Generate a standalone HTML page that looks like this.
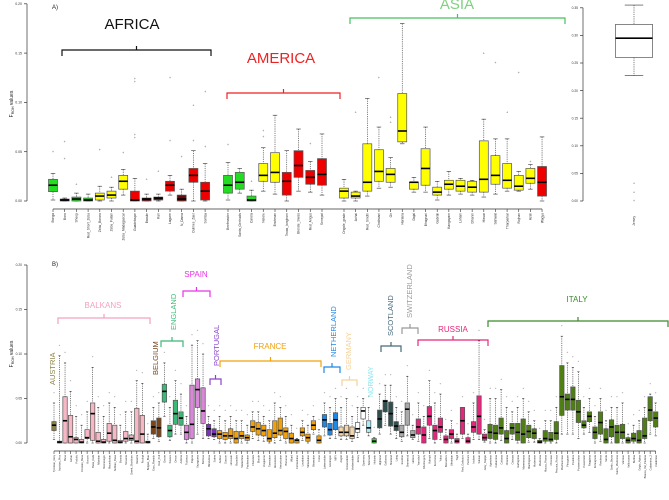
<!DOCTYPE html>
<html><head><meta charset="utf-8">
<style>
html,body{margin:0;padding:0;background:#fff;}
svg{display:block;font-family:"Liberation Sans",sans-serif;}
</style></head>
<body>
<svg id="chart" width="669" height="500" viewBox="0 0 669 500" xmlns="http://www.w3.org/2000/svg">
<text x="52" y="9" font-size="6" fill="#222">A)</text>
<text x="52" y="266" font-size="6" fill="#222">B)</text>
<text transform="translate(13,104) rotate(-90)" text-anchor="middle" font-size="5" fill="#222">F<tspan font-size="3.5" dy="1">ROH</tspan><tspan dy="-1"> values</tspan></text>
<text transform="translate(13,354) rotate(-90)" text-anchor="middle" font-size="5" fill="#222">F<tspan font-size="3.5" dy="1">ROH</tspan><tspan dy="-1"> values</tspan></text>
<g id="ga"></g><g id="gr"></g><g id="gb"></g>
</svg>
<script>
// ---------- Panel A data: [median, q1, q3, whiskerHigh, whiskerLow]
const aNames = ["Bonga","Boro","Sheep","Red_Short_Zebu","Zebu_Bororo","Zebu_Fulani","Zebu_Madagascar","Guadeloupe","Baoule","Kuri","Lagune","N_Dama","Oulmes_Zaer","Somba",
 "Beefmaster","Santa_Gertrudis","Carora","Nelore","Brahman","Texas_longhorn","Blonde_Swiss","Red_Angus","Senepol",
 "Ongole_grade","Achai","Red_Sindhi","Cholistani","Gir","Hariana","Dajal","Bhagnari","Gabrali","Kangayam","Lohani","Dhanni","Hissar","Sahiwal","Tharparkar","Rojhan","Azeli","Wagyu"];
const aGroup = [0,0,0,0,0,0,0,0,0,0,0,0,0,0, 1,1,1,1,1,1,1,1,1, 2,2,2,2,2,2,2,2,2,2,2,2,2,2,2,2,2,2];
const aColor = ["g","k","g","g","y","y","y","r","d","d","r","d","r","r", "g","g","g","y","y","r","r","r","r", "y","y","y","y","y","y","y","y","y","y","y","y","y","y","y","y","y","r"];
const aStats = [
[.016,.0095,.022,.028,.001],[.001,0,.002,.003,0],[.002,0,.004,.008,0],[.001,0,.003,.007,0],[.005,.001,.008,.015,0],[.006,.003,.010,.014,0],[.020,.012,.026,.032,.006],[.001,0,.010,.023,0],[.002,0,.003,.007,0],[.003,.001,.004,.007,0],[.016,.010,.020,.026,.006],[.002,0,.006,.012,0],[.026,.019,.033,.051,0],[.010,.001,.019,.038,0],
[.016,.008,.026,.039,.001],[.019,.012,.029,.033,.008],[.001,0,.005,.011,0],[.026,.020,.038,.054,.010],[.029,.019,.049,.087,.007],[.020,.006,.029,.051,0],[.036,.024,.051,.073,.010],[.024,.017,.031,.040,.009],[.027,.016,.043,.068,.006],
[.010,.003,.013,.022,0],[.005,.003,.009,.010,0],[.019,.010,.058,.104,.005],[.030,.020,.052,.075,.013],[.027,.019,.033,.044,.014],[.071,.060,.109,.180,.058],[.019,.012,.019,.024,.009],[.033,.016,.053,.075,.009],[.009,.006,.014,.020,.001],[.017,.012,.021,.030,.006],[.015,.010,.021,.023,.007],[.014,.009,.020,.021,.006],[.022,.009,.061,.083,.004],[.026,.017,.046,.063,.007],[.021,.013,.038,.063,.010],[.015,.011,.026,.030,.010],[.023,.018,.033,.037,.012],[.019,.005,.035,.065,0]];
const aOutliers = [[0,.050],[1,.060],[1,.043],[2,.017],[4,.052],[5,.024],[6,.049],[7,.121],[7,.124],[7,.067],[7,.064],[8,.022],[9,.030],[10,.125],[10,.061],[11,.045],[12,.097],[12,.061],[13,.111],[13,.055],[14,.057],[16,.020],[17,.071],[17,.065],[21,.058],[24,.090],[26,.125],[27,.085],[27,.080],[35,.150],[36,.140],[37,.090],[38,.130],[39,.040]];
const aTicks = [0,0.05,0.10,0.15,0.20];
const aTickLabels = ["0.00","0.05","0.10","0.15","0.20"];
// Right panel
const rName = ["Jersey"];
const rStats = [[.295,.260,.320,.355,.227]];
const rOutliers = [.032,.016,.0];
const rTicks = [0,.05,.10,.15,.20,.25,.30,.35];
const rTickLabels = ["0.00","0.05","0.10","0.15","0.20","0.25","0.30","0.35"];

// ---------- Panel B data
const bGroupNames = ["Austria","Balkans","Belgium","England","Spain","Portugal","France","Netherland","Germany","White","Norway","Green","Scotland","Switzerland","Russia","Italy"];
const bGroupCounts = [1,17,2,4,4,2,19,3,3,2,1,1,4,3,13,31];
const bStats = [
[.020,.014,.024,.045,.004],
[.001,0,.002,.098,0],[.025,0,.052,.090,0],[.007,0,.031,.058,0],[.004,0,.006,.030,0],[.001,0,.004,.020,0],[.006,.005,.015,.035,0],[.033,.003,.045,.085,0],[.002,0,.012,.040,0],[.001,0,.004,.030,0],[.011,.002,.022,.045,0],[.003,0,.020,.040,0],[.001,0,.003,.020,0],[.005,.002,.013,.035,0],[.005,.003,.009,.035,0],[.002,0,.039,.070,0],[.010,0,.031,.067,0],[.001,0,.002,.010,0],
[.018,.010,.025,.040,.005],[.017,.007,.028,.045,.002],
[.058,.046,.066,.090,.030],[.014,.007,.020,.040,.003],[.033,.021,.048,.070,.010],[.028,.020,.035,.055,.010],
[.012,.004,.020,.030,0],[.021,.005,.065,.110,0],[.060,.040,.072,.115,.010],[.036,.022,.062,.100,.005],
[.016,.008,.021,.030,.005],[.010,.007,.016,.025,.004],
[.010,.005,.014,.030,0],[.008,.004,.012,.025,0],[.008,.005,.016,.030,0],[.005,0,.013,.025,0],[.008,.005,.013,.025,0],[.006,.003,.009,.020,0],[.018,.013,.025,.035,.005],[.016,.009,.023,.035,.003],[.014,.008,.020,.030,.002],[.005,.002,.015,.025,0],[.011,.006,.025,.045,0],[.014,.009,.028,.040,.003],[.013,.005,.017,.030,0],[.005,0,.011,.020,0],[.003,0,.004,.005,0],[.012,.008,.017,.025,.003],[.006,.002,.010,.020,0],[.020,.015,.025,.030,.010],[.003,0,.008,.015,0],
[.026,.018,.032,.045,.008],[.015,.009,.022,.040,.005],[.026,.015,.034,.050,.005],
[.012,.008,.018,.040,.004],[.012,.008,.020,.050,.004],[.008,.005,.018,.030,.002],
[.016,.012,.023,.040,.006],[.036,.027,.040,.050,.020],
[.017,.012,.025,.040,.008],
[.002,0,.005,.006,0],
[.027,.017,.037,.055,.010],[.047,.035,.048,.065,.020],[.033,.019,.046,.065,.010],[.019,.014,.024,.040,.005],
[.012,.007,.020,.035,.002],[.038,.020,.045,.075,.008],[.009,.006,.014,.020,.004],
[.018,.010,.027,.045,.002],[.009,0,.018,.030,0],[.030,.020,.041,.070,.005],[.014,.004,.020,.045,0],[.018,.012,.028,.055,.004],[.004,0,.008,.015,0],[.010,.005,.015,.025,0],[.002,0,.005,.010,0],[.025,.010,.040,.040,.005],[.002,0,.006,.010,0],[.018,.012,.024,.045,.004],[.030,.010,.053,.115,.004],[.006,.003,.010,.015,.001],
[.012,.005,.021,.050,0],[.011,.004,.020,.050,0],[.017,.010,.028,.060,.003],[.005,0,.014,.040,0],[.017,.010,.022,.035,.004],[.012,.003,.022,.040,0],[.010,0,.027,.050,0],[.013,.006,.020,.035,.001],[.011,.005,.016,.025,.001],[.001,0,.003,.005,0],[.005,.002,.014,.025,0],[.004,.002,.012,.025,0],[.011,.004,.024,.040,0],[.052,.031,.087,.120,.010],[.049,.037,.055,.090,.010],[.049,.037,.063,.085,.010],[.035,.023,.048,.080,.005],[.020,.017,.025,.040,.010],[.030,.024,.035,.050,.012],[.012,.005,.018,.030,0],[.023,.010,.035,.050,.002],[.004,0,.016,.025,0],[.018,.007,.026,.040,0],[.012,0,.020,.040,0],[.012,.005,.021,.045,0],[.003,0,.006,.010,0],[.005,.002,.011,.020,0],[.003,0,.014,.025,0],[.008,.005,.028,.040,0],[.037,.025,.052,.055,.010],[.028,.018,.035,.045,.008]];
const bTicks = [0,.05,.10,.15,.20];
const bTickLabels = ["0.00","0.05","0.10","0.15","0.20"];
const bLabelPool = ["Tyrolean_Grey","Austrian_Pinz","Busa","Istrian","Podolic","Croatian_Busa","Kosovo","Buša_Dark","Albanian","Montenegro","Macedonian","Serbian_Busa","Bosnia","Slovenia","Greek_Shorthorn","Katerini","Rodopi","Belgian_Blue","East_Flemish","Red_Poll","Dexter","Sussex","Devon","Avilena","Tudanca","Pajuna","Sayaguesa","Barrosa","Mirandesa","Salers","Aubrac","Gascon","Limousin","Bazadais","Maraichine","Parthenaise","Charolais","Blonde","Vosgienne","Tarentaise","Abondance","Armoricaine","Bretonne","Villard","Ferrandaise","Lourdaise","Mirandaise","Béarnaise","Corse","Lakenvelder","Groningen","MRY","Angler","Hinterwälder","Vorderwälder","Jersey","Guernsey","Telemark","Holstein","Highland","Galloway","Shetland","Luing","Evolène","Simmental","Hérens","Yaroslavl","Kholmogory","Kalmyk","Kostroma","Yakut","Bestuzhev","Ukrainian","Tagil","Red_Gorbatov","Pechora","Istoben","Suksun","Grey_Steppe","Agerolese","Cabannina","Calvana","Chianina","Cinisara","Garfagnina","Maremmana","Marchigiana","Modenese","Modicana","Mucca_Pisana","Ottonese","Pezzata_Rossa","Piedmontese","Pinzgauer","Podolica","Pontremolese","Pustertaler","Reggiana","Romagnola","Rendena","Sarda","Sardo_Bruna","Sardo_Modicana","Varzese","Valdostana","Burlina","Grigio_Alpina","Bianca_Val_Padana","Cabannina_2","Calabrese"];

const NS="http://www.w3.org/2000/svg";
const COLORS={g:"#22dd22",k:"#111",y:"#ffff00",r:"#ee0000",d:"#6b0a0a"};
const BCOL={Austria:"#8d8245",Balkans:"#f5b8c4",Belgium:"#7a4519",England:"#3cb878",Spain:"#d987d9",Portugal:"#7b2fbf",France:"#f2a10a",Netherland:"#1e88e5",Germany:"#f6d6a8",White:"#ffffff",Norway:"#a8ecf5",Green:"#20e020",Scotland:"#2f4f4f",Switzerland:"#aaaaaa",Russia:"#e3277b",Italy:"#4f7f14"};
function el(tag,attrs,parent,name,inter){const e=document.createElementNS(NS,tag);for(const k in attrs)e.setAttribute(k,attrs[k]);


parent.appendChild(e);return e;}

function drawBox(g,x,w,s,y,fill,name){
  const [med,q1,q3,hi,lo]=s;
  const bg=el('g',{},g,name,false);
  el('line',{x1:x,x2:x,y1:y(hi),y2:y(q3),stroke:'#333','stroke-width':0.6,'stroke-dasharray':'1.2,1'},bg,'whisker-high',false);
  el('line',{x1:x,x2:x,y1:y(q1),y2:y(lo),stroke:'#333','stroke-width':0.6,'stroke-dasharray':'1.2,1'},bg,'whisker-low',false);
  el('line',{x1:x-w/4,x2:x+w/4,y1:y(hi),y2:y(hi),stroke:'#333','stroke-width':0.6},bg,'whisker-cap',false);
  el('line',{x1:x-w/4,x2:x+w/4,y1:y(lo),y2:y(lo),stroke:'#333','stroke-width':0.6},bg,'whisker-cap',false);
  el('rect',{x:x-w/2,y:y(q3),width:w,height:Math.max(0.8,y(q1)-y(q3)),fill:fill,stroke:'#555','stroke-width':0.7},bg,'box',false);
  el('line',{x1:x-w/2,x2:x+w/2,y1:y(med),y2:y(med),stroke:'#000','stroke-width':1.6},bg,'median-line',false);
}
function yAxis(g,x,y,ticks,labels,name,fs){
  const ag=el('g',{},g,name,false);
  el('line',{x1:x,x2:x,y1:y(ticks[0]),y2:y(ticks[ticks.length-1]),stroke:'#333','stroke-width':0.7},ag,'y-axis-line',false);
  ticks.forEach((t,i)=>{el('line',{x1:x-3,x2:x,y1:y(t),y2:y(t),stroke:'#333','stroke-width':0.7},ag,'y-tick',false);
    const tx=el('text',{x:x-5,y:y(t)+1.2,'font-size':fs,'text-anchor':'end',fill:'#333'},ag,'y-tick-label',false);tx.textContent=labels[i];});
}
function xLabel(g,x,y0,text,fs){const t=el('text',{transform:`translate(${x+1.2},${y0}) rotate(-90)`,'font-size':fs,'text-anchor':'end',fill:'#333'},g,'x-tick-label',false);t.textContent=text;}
function bracket(g,x1,x2,y,color,name){
  const mid=(x1+x2)/2;
  el('path',{d:`M${x1},${y+6}V${y}H${x2}V${y+6}M${mid},${y}V${y-4}`,fill:'none',stroke:color,'stroke-width':1.2},g,name,false);
}
function label(g,x,y,text,color,fs,rot,name){
  const t=el('text',{transform:`translate(${x},${y})`+(rot?' rotate(-90)':''),'font-size':fs,fill:color,'text-anchor':rot?'start':'middle'},g,name,false);t.textContent=text;
}

// ---------- Panel A
const ga=document.getElementById('ga');
const yA=v=>201-v*986;
yAxis(ga,27,yA,aTicks,aTickLabels,'panel-a-y-axis',3.5);
const aStart=[53,228,344], aStep=[11.7,11.75,11.65];
const aX=[];let cnt=[0,0,0];
aGroup.forEach((gi,i)=>{aX.push(aStart[gi]+aStep[gi]*cnt[gi]);cnt[gi]++;});
el('line',{x1:aX[0],x2:aX[aX.length-1],y1:209,y2:209,stroke:'#333','stroke-width':0.7},ga,'panel-a-x-axis',false);
aStats.forEach((s,i)=>{drawBox(ga,aX[i],9,s,yA,COLORS[aColor[i]],'box-'+aNames[i].toLowerCase());
  el('line',{x1:aX[i],x2:aX[i],y1:209,y2:212,stroke:'#333','stroke-width':0.6},ga,'x-tick',false);
  xLabel(ga,aX[i],213,aNames[i],3.3);});
aOutliers.forEach(o=>{const t=el('text',{x:aX[o[0]],y:yA(o[1])+1.2,'font-size':3.5,'text-anchor':'middle',fill:'#555'},ga,'outlier',false);t.textContent='+';});
bracket(ga,62,211,50,'#111','africa-bracket');label(ga,132,29,'AFRICA','#111',15,false,'africa-label');
bracket(ga,227,340,93,'#ee2222','america-bracket');label(ga,281,63,'AMERICA','#ee2222',15,false,'america-label');
bracket(ga,350,565,18,'#44c060','asia-bracket');label(ga,457,9,'ASIA','#7fd07f',15,false,'asia-label');

// ---------- Right panel
const gr=document.getElementById('gr');
const yR=v=>201-v*552;
yAxis(gr,583,yR,rTicks,rTickLabels,'right-panel-y-axis',3.3);
drawBox(gr,634,37,rStats[0],yR,'#ffffff','box-'+rName[0].toLowerCase());
rOutliers.forEach(v=>{const t=el('text',{x:634,y:yR(v)+1.2,'font-size':3.5,'text-anchor':'middle',fill:'#555'},gr,'outlier',false);t.textContent='+';});
xLabel(gr,634,216,rName[0],3.3);

// ---------- Panel B
const gb=document.getElementById('gb');
const yB=v=>443-v*890;
yAxis(gb,27,yB,bTicks,bTickLabels,'panel-b-y-axis',3.3);
const bX=i=>54+i*5.52;
el('line',{x1:bX(0),x2:bX(bStats.length-1),y1:451,y2:451,stroke:'#333','stroke-width':0.7},gb,'panel-b-x-axis',false);
let gi=0,left=bGroupCounts[0];
bStats.forEach((s,i)=>{while(left===0){gi++;left=bGroupCounts[gi];}left--;
  const name=bGroupNames[gi];
  drawBox(gb,bX(i),4.4,s,yB,BCOL[name],'box-'+name.toLowerCase()+'-'+i);
  el('line',{x1:bX(i),x2:bX(i),y1:451,y2:454,stroke:'#333','stroke-width':0.6},gb,'x-tick',false);
  xLabel(gb,bX(i),455,bLabelPool[i%bLabelPool.length],2.6);
  const t=el('text',{x:bX(i),y:yB(s[3]+0.012)+1,'font-size':3,'text-anchor':'middle',fill:'#666'},gb,'outlier',false);t.textContent='+';
});
bracket(gb,58,150,318,'#f4a0c0','balkans-bracket');label(gb,103,308,'BALKANS','#f4a0c0',8,false,'balkans-label');
bracket(gb,161,183,341,'#3cb878','england-bracket');label(gb,176,330,'ENGLAND','#3cb878',7.5,true,'england-label');
bracket(gb,183,210,291,'#e633e6','spain-bracket');label(gb,196,277,'SPAIN','#e633e6',8,false,'spain-label');
bracket(gb,210,221,379,'#8844cc','portugal-bracket');label(gb,219,366,'PORTUGAL','#8844cc',7.5,true,'portugal-label');
bracket(gb,220,321,361,'#f2a10a','france-bracket');label(gb,270,349,'FRANCE','#f2a10a',8,false,'france-label');
bracket(gb,324,340,367,'#1e88e5','netherland-bracket');label(gb,336,357,'NETHERLAND','#1e88e5',7.5,true,'netherland-label');
bracket(gb,342,357,380,'#f5d29a','germany-bracket');label(gb,351,370,'GERMANY','#f5d29a',7.5,true,'germany-label');
label(gb,373,397,'NORWAY','#8ae6f0',7,true,'norway-label');
bracket(gb,381,401,346,'#456a78','scotland-bracket');label(gb,393,336,'SCOTLAND','#456a78',7.5,true,'scotland-label');
bracket(gb,402,418,328,'#999','switzerland-bracket');label(gb,412,318,'SWITZERLAND','#999',7.5,true,'switzerland-label');
bracket(gb,418,488,340,'#e3277b','russia-bracket');label(gb,453,332,'RUSSIA','#e3277b',8,false,'russia-label');
bracket(gb,488,668,321,'#3a8a2a','italy-bracket');label(gb,577,302,'ITALY','#3a8a2a',8,false,'italy-label');
label(gb,55,385,'AUSTRIA','#8d8245',7.5,true,'austria-label');
label(gb,158,375,'BELGIUM','#7a4519',7.5,true,'belgium-label');
</script>
</body></html>
